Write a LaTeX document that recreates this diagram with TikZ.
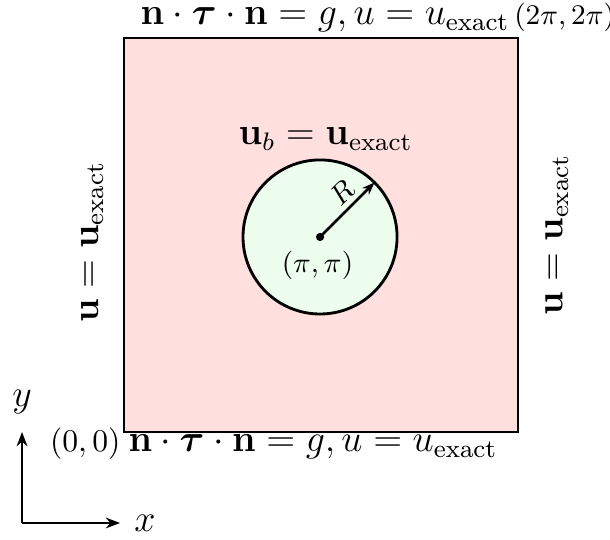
\documentclass[tikz,border=0pt]{standalone}
\usepackage{amsmath,amssymb}
\usepackage{xcolor}
\usepackage{tikz}
\usetikzlibrary{arrows.meta,positioning,calc}
\definecolor{domfill}{RGB}{255,224,222}
\definecolor{holefill}{RGB}{238,254,238}
\tikzset{
    dom box/.style={draw=black, line width=0.9pt, fill=domfill},
    dom hole/.style={draw=black, line width=0.9pt, fill=holefill},
    dom label/.style={font=\large, inner sep=0pt},
    dom coord/.style={font=\normalsize, inner sep=0pt},
    dom small/.style={font=\small, inner sep=0pt},
    dom arrow/.style={-{Stealth[length=4pt]}, line width=0.8pt},
    dom axis/.style={-{Stealth[length=4.5pt]}, line width=0.8pt}
}

\begin{document}
\begin{tikzpicture}
\useasboundingbox (-1.378,-1.2) rectangle (5.4,4.8);
% Domain and immersed circle
\draw[dom box] (0,0) rectangle (4.378,4.378);
\coordinate (mid) at (2.178,2.167);
\draw[dom hole] (mid) circle (0.856);
\coordinate (rim) at ($(mid)+(45:0.856)$);
\fill (mid) circle (1.3pt);
\node[dom small, anchor=north] (ctr) at (2.15,2.02) {$(\pi,\pi)$};
\draw[dom arrow] (mid) -- (rim) node[dom small, pos=0.6, above=1.5pt, sloped] (rad) {$R$};
\node[dom label, anchor=base] (ub) at (2.24,3.19) {$\mathbf{u}_b = \mathbf{u}_{\text{exact}}$};

% Boundary conditions
\node[dom label, anchor=base west] (top) at (0.178,4.525) {$\mathbf{n}\cdot\boldsymbol{\tau}\cdot\mathbf{n} = g, u = u_{\text{exact}}$};
\node[dom small, anchor=base west] (tr) at (4.33,4.525) {$(2\pi,2\pi)$};
\node[dom label, anchor=base west] (bot) at (0.044,-0.222) {$\mathbf{n}\cdot\boldsymbol{\tau}\cdot\mathbf{n} = g, u = u_{\text{exact}}$};
\node[dom coord, anchor=base east] (bl) at (-0.033,-0.222) {$(0,0)$};
\node[dom label, anchor=base, rotate=90] (lft) at (-0.289,2.11) {$\mathbf{u} = \mathbf{u}_{\text{exact}}$};
\node[dom label, anchor=base, rotate=90] (rgt) at (4.87,2.19) {$\mathbf{u} = \mathbf{u}_{\text{exact}}$};

% Axes
\coordinate (o) at (-1.133,-1.011);
\coordinate (xe) at (-0.044,-1.011);
\coordinate (ye) at (-1.133,0);
\draw[dom axis] (o) -- (xe);
\draw[dom axis] (o) -- (ye);
\node[dom coord, font=\large] (xl) at (0.233,-1.011) {$x$};
\node[dom coord, font=\large] (yl) at (-1.133,0.333) {$y$};
\end{tikzpicture}
\end{document}
